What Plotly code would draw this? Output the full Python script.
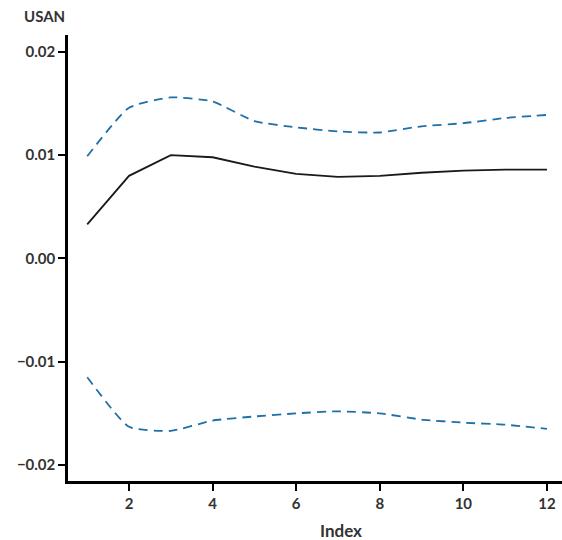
import plotly.graph_objects as go

index = list(range(1, 13))
estimate = [0.0033, 0.0080, 0.0100, 0.0098, 0.0089, 0.0082, 0.0079, 0.0080, 0.0083, 0.0085, 0.0086, 0.0086]
upper = [0.0099, 0.0146, 0.0156, 0.0152, 0.0133, 0.0127, 0.0123, 0.0122, 0.0128, 0.0131, 0.0136, 0.0139]
lower = [-0.0115, -0.0163, -0.0167, -0.0157, -0.0153, -0.0150, -0.0148, -0.0150, -0.0156, -0.0159, -0.0161, -0.0165]
x_ticks = [2, 4, 6, 8, 10, 12]
y_ticks = [-0.02, -0.01, 0.0, 0.01, 0.02]
y_labels = ["\u22120.02", "\u22120.01", "0.00", "0.01", "0.02"]

fig = go.Figure()
band_line = dict(color="#1f6fa8", width=1.8, dash="9px,6px", shape="spline", smoothing=0.5)
fig.add_trace(go.Scatter(x=index, y=upper, mode="lines", line=band_line))
fig.add_trace(go.Scatter(x=index, y=estimate, mode="lines",
                         line=dict(color="#1a1a1a", width=1.8)))
fig.add_trace(go.Scatter(x=index, y=lower, mode="lines", line=band_line))

fig.update_layout(
    width=562, height=540,
    margin=dict(l=68, r=0, t=35, b=59),
    plot_bgcolor="white", paper_bgcolor="white",
    showlegend=False,
    font=dict(family="Lato", color="#333333", size=15),
    xaxis=dict(range=[0.54, 12.36], tickvals=x_ticks, ticks="outside", ticklen=7, tickwidth=2,
               tickcolor="black", showline=True, linecolor="black", linewidth=2.5,
               showgrid=False, zeroline=False, automargin=False,
               tickfont=dict(family="Lato", size=15, color="#333333", weight="bold")),
    yaxis=dict(range=[-0.02155, 0.02164], tickvals=y_ticks, ticktext=y_labels, ticks="outside",
               ticklen=7, tickwidth=2, tickcolor="black", showline=True, linecolor="black",
               linewidth=2.5, showgrid=False, zeroline=False, automargin=False,
               tickfont=dict(family="Lato", size=15, color="#333333", weight="bold")),
    annotations=[
        dict(text="<b>USAN</b>", x=0, y=1, xref="paper", yref="paper", xanchor="left", yanchor="bottom",
             xshift=-46, yshift=8, showarrow=False,
             font=dict(family="Lato", size=15, color="#333333")),
        dict(text="<b>Index</b>", x=0.553, y=0, xref="paper", yref="paper", xanchor="center", yanchor="middle",
             yshift=-49, showarrow=False,
             font=dict(family="Lato", size=17, color="#333333")),
    ],
)
fig.write_html("out.html", config={"displayModeBar": False},
               post_script="document.body.style.margin='0';document.body.style.overflow='hidden';")
